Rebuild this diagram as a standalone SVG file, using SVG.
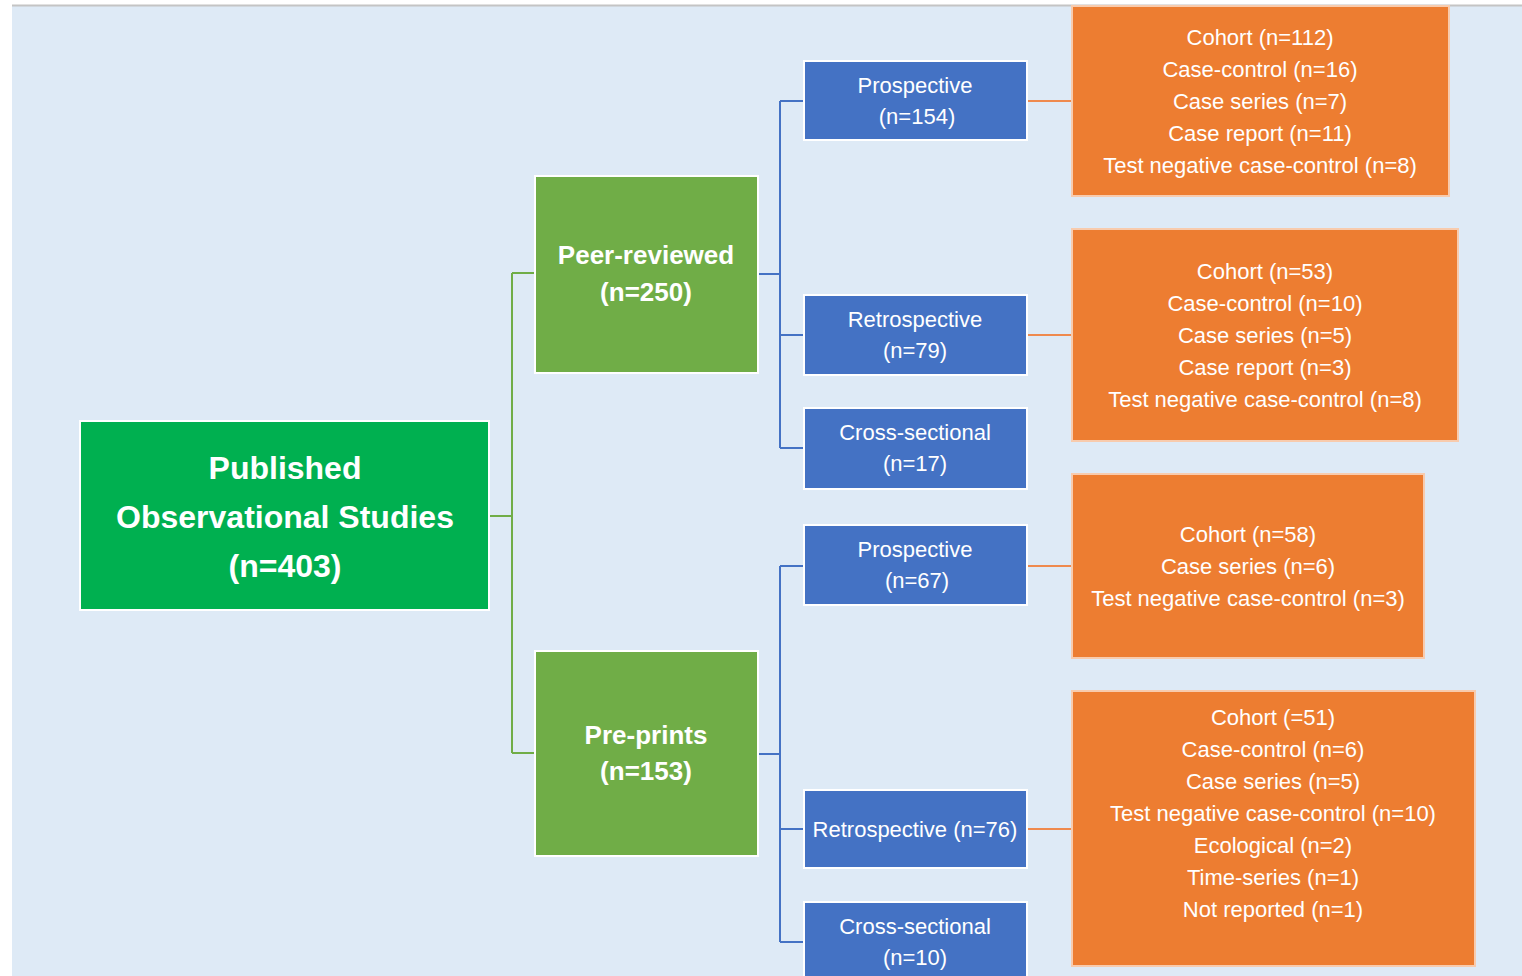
<svg xmlns="http://www.w3.org/2000/svg" width="1522" height="976" viewBox="0 0 1522 976">
<style>
.t{font-family:"Liberation Sans",Arial,sans-serif;fill:#ffffff;text-anchor:middle}
.root{font-size:32px;font-weight:bold}
.mid{font-size:26px;font-weight:bold}
.sm{font-size:22px}
.box{stroke:#ffffff;stroke-width:2}
.g{fill:#00b050}
.lg{fill:#70ad47}
.bl{fill:#4472c4}
.or{fill:#ed7d31;stroke:#f8cbad}
.cg{stroke:#70ad47;stroke-width:2;fill:none}
.cb{stroke:#4472c4;stroke-width:2;fill:none}
.co{stroke:#ef8a4e;stroke-width:2;fill:none}
</style>
<rect x="0" y="0" width="1522" height="976" fill="#ffffff"/>
<rect x="12" y="6" width="1510" height="970" fill="#deeaf6"/>
<line x1="12" y1="5.5" x2="1522" y2="5.5" stroke="#c4c4c4" stroke-width="2"/>
<g id="connectors">
<path class="cg" d="M489 516H512M512 273V753M512 273H535M512 753H535"/>
<path class="cb" d="M780 101V448M780 101H804M780 335H804M780 448H804"/>
<path class="cb" d="M758 274H780" stroke-width="3.5"/>
<path class="cb" d="M780 566V942M780 566H804M780 829H804M780 942H804"/>
<path class="cb" d="M758 754H780" stroke-width="3"/>
<path class="co" d="M1027 101H1072M1027 335H1072M1027 566H1072M1027 829H1072"/>
</g>
<g id="root">
<rect class="box g" x="80" y="421" width="409" height="189"/>
<text class="t root" x="285" y="479">Published</text>
<text class="t root" x="285" y="528">Observational Studies</text>
<text class="t root" x="285" y="577">(n=403)</text>
</g>
<g id="peer">
<rect class="box lg" x="535" y="176" width="223" height="197"/>
<text class="t mid" x="646" y="264">Peer-reviewed</text>
<text class="t mid" x="646" y="301">(n=250)</text>
</g>
<g id="preprints">
<rect class="box lg" x="535" y="651" width="223" height="205"/>
<text class="t mid" x="646" y="744">Pre-prints</text>
<text class="t mid" x="646" y="780">(n=153)</text>
</g>
<g id="pr1">
<rect class="box bl" x="804" y="61" width="223" height="79"/>
<text class="t sm" x="915" y="93">Prospective</text>
<text class="t sm" x="917" y="124">(n=154)</text>
</g>
<g id="re1">
<rect class="box bl" x="804" y="295" width="223" height="80"/>
<text class="t sm" x="915" y="327">Retrospective</text>
<text class="t sm" x="915" y="358">(n=79)</text>
</g>
<g id="cs1">
<rect class="box bl" x="804" y="408" width="223" height="81"/>
<text class="t sm" x="915" y="440">Cross-sectional</text>
<text class="t sm" x="915" y="471">(n=17)</text>
</g>
<g id="pr2">
<rect class="box bl" x="804" y="525" width="223" height="80"/>
<text class="t sm" x="915" y="557">Prospective</text>
<text class="t sm" x="917" y="588">(n=67)</text>
</g>
<g id="re2">
<rect class="box bl" x="804" y="790" width="223" height="78"/>
<text class="t sm" x="915" y="837">Retrospective (n=76)</text>
</g>
<g id="cs2">
<rect class="box bl" x="804" y="902" width="223" height="80"/>
<text class="t sm" x="915" y="934">Cross-sectional</text>
<text class="t sm" x="915" y="965">(n=10)</text>
</g>
<g id="o1">
<rect class="box or" x="1072" y="6" width="377" height="190"/>
<text class="t sm" x="1260" y="45">Cohort (n=112)</text>
<text class="t sm" x="1260" y="77">Case-control (n=16)</text>
<text class="t sm" x="1260" y="109">Case series (n=7)</text>
<text class="t sm" x="1260" y="141">Case report (n=11)</text>
<text class="t sm" x="1260" y="173">Test negative case-control (n=8)</text>
</g>
<g id="o2">
<rect class="box or" x="1072" y="229" width="386" height="212"/>
<text class="t sm" x="1265" y="279">Cohort (n=53)</text>
<text class="t sm" x="1265" y="311">Case-control (n=10)</text>
<text class="t sm" x="1265" y="343">Case series (n=5)</text>
<text class="t sm" x="1265" y="375">Case report (n=3)</text>
<text class="t sm" x="1265" y="407">Test negative case-control (n=8)</text>
</g>
<g id="o3">
<rect class="box or" x="1072" y="474" width="352" height="184"/>
<text class="t sm" x="1248" y="542">Cohort (n=58)</text>
<text class="t sm" x="1248" y="574">Case series (n=6)</text>
<text class="t sm" x="1248" y="606">Test negative case-control (n=3)</text>
</g>
<g id="o4">
<rect class="box or" x="1072" y="691" width="403" height="275"/>
<text class="t sm" x="1273" y="725">Cohort (=51)</text>
<text class="t sm" x="1273" y="757">Case-control (n=6)</text>
<text class="t sm" x="1273" y="789">Case series (n=5)</text>
<text class="t sm" x="1273" y="821">Test negative case-control (n=10)</text>
<text class="t sm" x="1273" y="853">Ecological (n=2)</text>
<text class="t sm" x="1273" y="885">Time-series (n=1)</text>
<text class="t sm" x="1273" y="917">Not reported (n=1)</text>
</g>
</svg>
